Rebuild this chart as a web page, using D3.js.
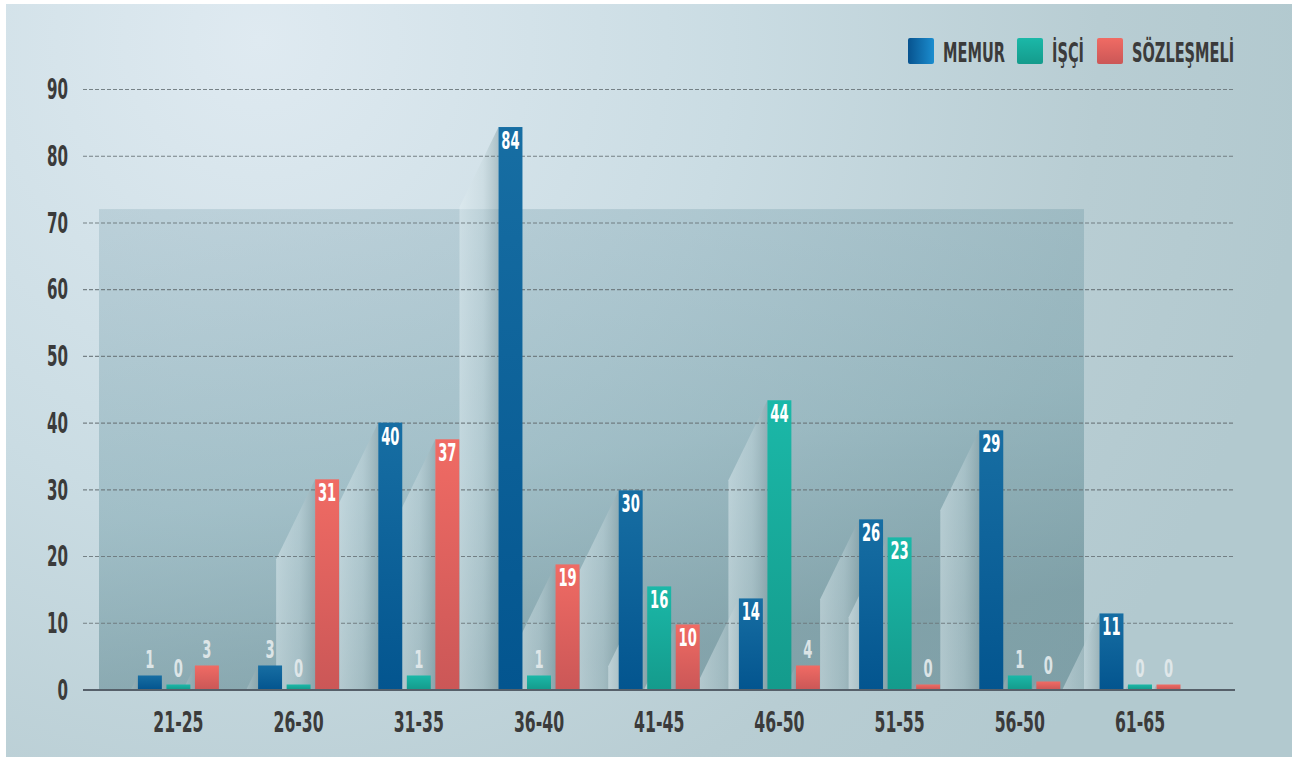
<!DOCTYPE html>
<html>
<head>
<meta charset="utf-8">
<script src="https://cdn.jsdelivr.net/npm/d3@7"></script>
<style>
  html, body { margin: 0; padding: 0; background: #ffffff; }
  svg { display: block; }
  text { font-family: 'Liberation Sans Narrow', 'DejaVu Sans Condensed', 'Liberation Sans', sans-serif; font-weight: bold; }
</style>
</head>
<body>
<svg id="chart" width="1298" height="760"></svg>
<script>
// ---------- DATA ----------
const categories = ["21-25", "26-30", "31-35", "36-40", "41-45", "46-50", "51-55", "56-50", "61-65"];
const seriesNames = ["MEMUR", "İŞÇİ", "SÖZLEŞMELİ"];
// bar heights as drawn in the picture
const memurValues = [2.1, 3.6, 40, 84.3, 29.85, 13.65, 25.5, 38.85, 11.4];
const isciValues  = [0.75, 0.75, 2.1, 2.1, 15.45, 43.35, 22.8, 2.1, 0.75];
const sozValues   = [3.6, 31.5, 37.5, 18.75, 9.75, 3.6, 0.75, 1.2, 0.75];
// value labels printed on the bars
const memurLabels = [1, 3, 40, 84, 30, 14, 26, 29, 11];
const isciLabels  = [0, 0, 1, 1, 16, 44, 23, 1, 0];
const sozLabels   = [3, 31, 37, 19, 10, 4, 0, 0, 0];
const yTicks = [0, 10, 20, 30, 40, 50, 60, 70, 80, 90];

// ---------- SETUP ----------
const svg = d3.select("#chart");
const defs = svg.append("defs");
const W = 1298, H = 760;
const pLeft = 83, pRight = 1235, pTop = 89, pBottom = 689.5;

const x0 = d3.scaleBand().domain(categories).range([118.3, 1200.1]).padding(0);
const x1 = d3.scaleBand().domain(seriesNames).range([-40.5, 40.5]).paddingInner(0.16).paddingOuter(0);
const y = d3.scaleLinear().domain([0, 90]).range([pBottom, pTop]);

const seriesValues = [memurValues, isciValues, sozValues];
const seriesLabels = [memurLabels, isciLabels, sozLabels];
const bars = [];
categories.forEach((c, i) => {
  seriesNames.forEach((s, j) => {
    bars.push({cat: c, series: s, si: j, value: seriesValues[j][i], label: seriesLabels[j][i]});
  });
});

// ---------- GRADIENTS ----------
function linGrad(id, x1_, y1_, x2_, y2_, stops) {
  const g = defs.append("linearGradient").attr("id", id)
    .attr("x1", x1_).attr("y1", y1_).attr("x2", x2_).attr("y2", y2_);
  stops.forEach(s => g.append("stop").attr("offset", s[0]).attr("stop-color", s[1]).attr("stop-opacity", s[2] == null ? 1 : s[2]));
  return g;
}
const bgGrad = defs.append("radialGradient").attr("id", "bg")
  .attr("gradientUnits", "userSpaceOnUse").attr("cx", 260).attr("cy", 40).attr("r", 1050);
[[0, "#dfeaf1"], [0.45, "#cadce3"], [0.8, "#b8cdd3"], [1, "#b2c9cf"]].forEach(s =>
  bgGrad.append("stop").attr("offset", s[0]).attr("stop-color", s[1]));

linGrad("panel", "0%", "0%", "30%", "100%", [[0, "#5f8c9c", 0.22], [0.6, "#4f8490", 0.33], [1, "#3f6d76", 0.45]]);
linGrad("g-memur", "0", "0", "0", "1", [[0, "#176ea3"], [1, "#03558f"]]);
linGrad("g-isci", "0", "0", "0", "1", [[0, "#1bb8a8"], [1, "#149b8c"]]);
linGrad("g-soz", "0", "0", "0", "1", [[0, "#f06b64"], [1, "#cb5757"]]);
linGrad("l-memur", "0", "0", "1", "0", [[0, "#07538f"], [1, "#1b8dcf"]]);
const fills = {"MEMUR": "url(#g-memur)", "İŞÇİ": "url(#g-isci)", "SÖZLEŞMELİ": "url(#g-soz)"};
const legendFills = {"MEMUR": "url(#l-memur)", "İŞÇİ": "url(#g-isci)", "SÖZLEŞMELİ": "url(#g-soz)"};

// ---------- BACKGROUND ----------
svg.append("rect").attr("width", W).attr("height", H).attr("fill", "#ffffff");
svg.append("rect").attr("x", 6).attr("y", 4).attr("width", 1286).attr("height", 753).attr("fill", "url(#bg)");
svg.append("rect")
  .attr("x", 99).attr("y", y(72))
  .attr("width", 1084 - 99).attr("height", pBottom - y(72))
  .attr("fill", "url(#panel)");

// ---------- BEAMS (decorative light shafts) ----------
const beamW = 39, slope = 2.05;
const beamG = svg.append("g");
bars.forEach((b, k) => {
  const L = x0(b.cat) + x0.bandwidth() / 2 + x1(b.series);
  const T = y(b.value);
  let pts;
  if (T + beamW * slope < pBottom) {
    pts = [[L, T], [L - beamW, T + beamW * slope], [L - beamW, pBottom], [L, pBottom]];
  } else {
    pts = [[L, T], [L - (pBottom - T) / slope, pBottom], [L, pBottom]];
  }
  const gid = "beam" + k;
  const g = defs.append("linearGradient").attr("id", gid).attr("gradientUnits", "userSpaceOnUse")
    .attr("x1", L - beamW).attr("y1", 0).attr("x2", L).attr("y2", 0);
  g.append("stop").attr("offset", 0).attr("stop-color", "#e2eef2").attr("stop-opacity", 0.5);
  g.append("stop").attr("offset", 0.6).attr("stop-color", "#c5d7dc").attr("stop-opacity", 0.45);
  g.append("stop").attr("offset", 1).attr("stop-color", "#8aa3a9").attr("stop-opacity", 0.55);
  beamG.append("polygon").attr("points", pts.map(p => p.join(",")).join(" ")).attr("fill", "url(#" + gid + ")");
});

// ---------- TEXT COMPRESSION (condensed look) ----------
function digitFactor(fs, digitRatio) {
  const probe = svg.append("text").attr("font-size", fs).text("0000000000");
  const dw = probe.node().getComputedTextLength() / 10;
  probe.remove();
  return (digitRatio * fs) / dw;
}
function condense(sel, digitRatio) {
  sel.each(function () {
    const fs = parseFloat(getComputedStyle(this).fontSize);
    const k = digitFactor(fs, digitRatio);
    const w = this.getComputedTextLength();
    d3.select(this).attr("textLength", w * k).attr("lengthAdjust", "spacingAndGlyphs");
  });
}

// ---------- Y AXIS + GRID ----------
const yAxis = svg.append("g").attr("transform", `translate(${pLeft},0)`)
  .call(d3.axisLeft(y).tickValues(yTicks).tickSize(-(pRight - pLeft)).tickPadding(15).tickFormat(d3.format("d")));
yAxis.select(".domain").remove();
yAxis.selectAll(".tick line")
  .attr("stroke", "#6b777b").attr("stroke-width", 1.1).attr("stroke-dasharray", "4,2").attr("opacity", 0.9);
yAxis.selectAll(".tick text").attr("fill", "#3b3b3b").attr("font-size", 28).attr("dy", "0.35em");
condense(yAxis.selectAll(".tick text"), 0.375);

// ---------- BARS ----------
const barG = svg.append("g");
barG.selectAll("rect").data(bars).join("rect")
  .attr("x", d => x0(d.cat) + x0.bandwidth() / 2 + x1(d.series))
  .attr("y", d => y(d.value))
  .attr("width", x1.bandwidth())
  .attr("height", d => y(0) - y(d.value))
  .attr("fill", d => fills[d.series]);

// baseline
svg.append("line").attr("x1", pLeft).attr("x2", pRight).attr("y1", y(0) + 0.5).attr("y2", y(0) + 0.5)
  .attr("stroke", "#56606a").attr("stroke-width", 2);
yAxis.selectAll(".tick").filter(d => d === 0).select("line").attr("opacity", 0);

// value labels
const lab = barG.selectAll("text").data(bars).join("text")
  .attr("x", d => x0(d.cat) + x0.bandwidth() / 2 + x1(d.series) + x1.bandwidth() / 2)
  .attr("text-anchor", "middle")
  .attr("font-size", 24)
  .each(function (d) {
    const hgt = y(0) - y(d.value);
    const inside = hgt >= 30;
    d3.select(this)
      .attr("y", inside ? y(d.value) + 22 : y(d.value) - 7)
      .attr("fill", inside ? "#ffffff" : "#e3eaec")
      .attr("opacity", inside ? 1 : 0.92);
  })
  .text(d => d.label);
condense(lab, 0.38);

// ---------- X AXIS ----------
const xAxis = svg.append("g").attr("transform", `translate(0,${y(0)})`)
  .call(d3.axisBottom(x0).tickSize(0).tickPadding(23));
xAxis.select(".domain").remove();
xAxis.selectAll(".tick text").attr("fill", "#3b3b3b").attr("font-size", 28);
condense(xAxis.selectAll(".tick text"), 0.39);

// ---------- LEGEND ----------
const legendX = [908, 1017, 1097];
const legend = svg.append("g");
const lk = digitFactor(27, 0.375);
seriesNames.forEach((s, i) => {
  legend.append("rect").attr("x", legendX[i]).attr("y", 38).attr("width", 26).attr("height", 26)
    .attr("rx", 2).attr("fill", legendFills[s]);
  legend.append("g").attr("transform", `translate(${legendX[i] + 35},62) scale(${lk},1)`)
    .append("text").attr("x", 0).attr("y", 0)
    .attr("font-size", 27).attr("fill", "#3b3b3b").text(s);
});
</script>
</body>
</html>
